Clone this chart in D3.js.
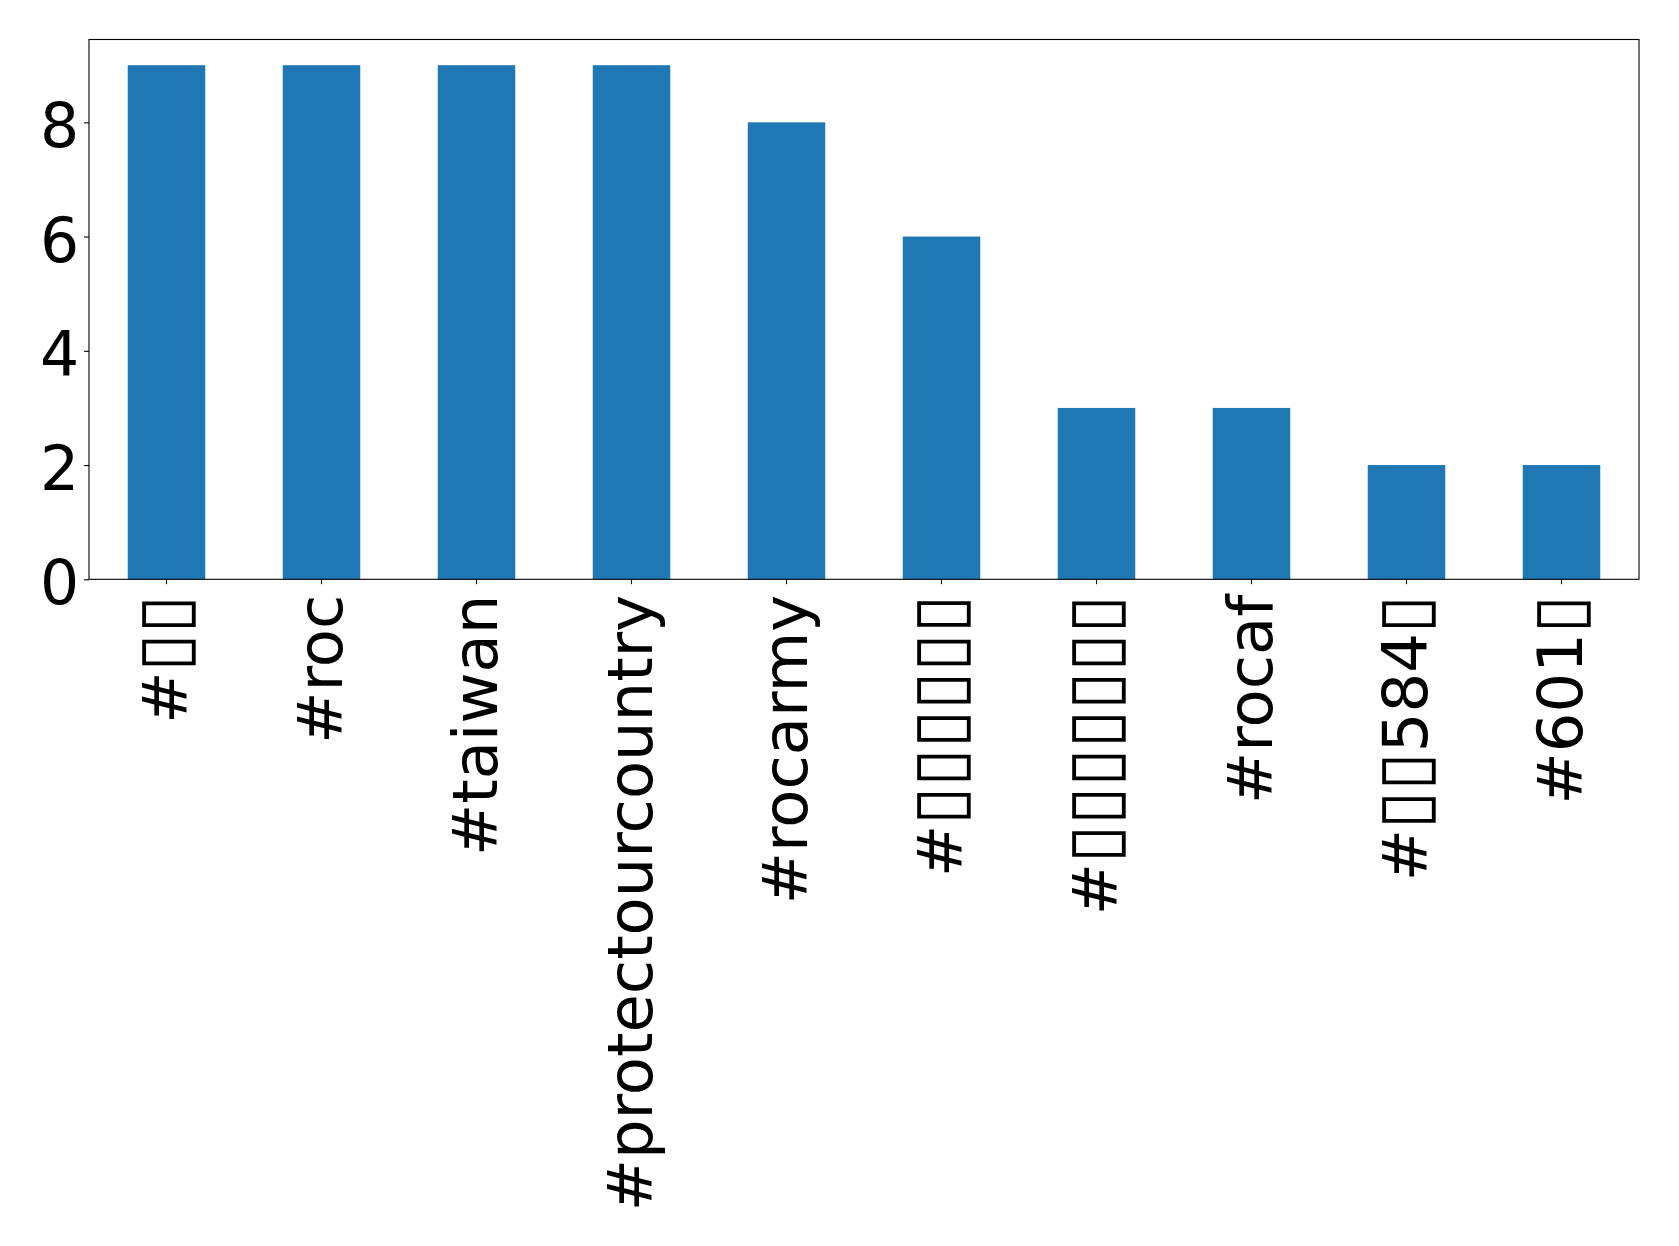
<!DOCTYPE html>
<html><head><meta charset="utf-8">
<script src="https://cdn.jsdelivr.net/npm/d3@7"></script>
<style>body{margin:0;background:#fff}</style>
</head><body>
<svg id="chart" width="1679" height="1246"></svg>
<script>
const categories = ["#▯▯", "#roc", "#taiwan", "#protectourcountry", "#rocarmy", "#▯▯▯▯▯▯", "#▯▯▯▯▯▯▯", "#rocaf", "#▯▯584▯", "#601▯"];
const values = [9, 9, 9, 9, 8, 6, 3, 3, 2, 2];
const yTicks = [0, 2, 4, 6, 8];

const svg = d3.select("#chart");
const L = 89, R = 1639, T = 39.5, B = 579.3;
const fs = 62.4;
const font = "'DejaVu Sans', sans-serif";

const x = d3.scaleBand().domain(categories).range([L, R]).paddingInner(0.5).paddingOuter(0.25);
const y = d3.scaleLinear().domain([0, 9.45]).range([B, T]);

svg.append("g").selectAll("rect").data(values).join("rect")
  .attr("x", (d, i) => x(categories[i]))
  .attr("width", x.bandwidth())
  .attr("y", d => y(d))
  .attr("height", d => B - y(d))
  .attr("fill", "#1f77b4");

svg.append("rect").attr("x", L).attr("y", T).attr("width", R - L).attr("height", B - T)
  .attr("fill", "none").attr("stroke", "#000").attr("stroke-width", 1.1);

const yAxis = svg.append("g").attr("transform", `translate(${L},0)`)
  .call(d3.axisLeft(y).tickValues(yTicks).tickSize(4.9).tickPadding(4.9).tickFormat(d3.format("d")));
yAxis.select(".domain").remove();
yAxis.selectAll("line").attr("stroke", "#000").attr("stroke-width", 1.1);
yAxis.selectAll("text").attr("font-family", font).attr("font-size", 61.6).attr("fill", "#000").attr("dy", "0.40em");

const xAxis = svg.append("g").attr("transform", `translate(0,${B})`)
  .call(d3.axisBottom(x).tickSize(4.9).tickPadding(0));
xAxis.select(".domain").remove();
xAxis.selectAll("line").attr("stroke", "#000").attr("stroke-width", 1.1);
xAxis.selectAll("text").remove();
const labels = xAxis.selectAll(".tick").append("text")
  .attr("transform", "translate(0,15.5) rotate(-90)")
  .attr("text-anchor", "end")
  .attr("dy", "0.335em")
  .attr("font-family", font).attr("font-size", fs).attr("fill", "#000");
labels.each(function(d) {
  const t = d3.select(this);
  const parts = d.match(/▯+|[^▯]+/g);
  parts.forEach(p => {
    const s = t.append("tspan").text(p);
    if (p[0] === "▯") s.attr("font-size", 61.1 * 1.14);
  });
});
</script>
</body></html>
